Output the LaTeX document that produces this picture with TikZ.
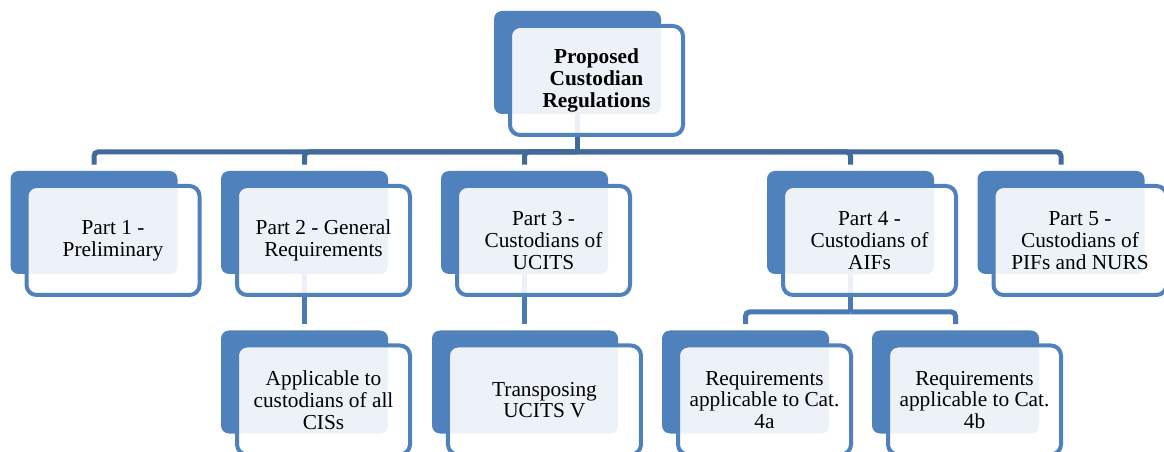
\documentclass[tikz,border=0pt]{standalone}
\usepackage{fontspec}
\setmainfont{Liberation Serif}
\usepackage{tikz}

\definecolor{boxblue}{HTML}{4F81BD}
\definecolor{busblue}{HTML}{41699A}
\definecolor{linkblue}{HTML}{4A7AB5}

\begin{document}
\begin{tikzpicture}[
            x=0.75pt, y=-0.75pt,
            back/.style={fill=boxblue, rounded corners=6pt, minimum width=125.25pt, minimum height=77.25pt, inner sep=0pt},
            front/.style={draw=boxblue, line width=3pt, fill=white, fill opacity=0.9, text opacity=1,
                rounded corners=7.5pt, minimum width=129.75pt, minimum height=81.75pt, inner sep=0pt,
                align=center, font=\fontsize{16}{16.3}\selectfont},
            title/.style={font=\fontsize{16}{16.3}\selectfont\bfseries},
            conn/.style={draw=linkblue, line width=3.75pt, rounded corners=3pt}
        ]
            \clip (0,0) rectangle (1164,452);

            % back plates
            \node[back] (tb) at (577.5,62.5) {};
            \node[back] (p1b) at (94,222.5) {};
            \node[back] (p2b) at (304.5,222.5) {};
            \node[back] (p3b) at (524.5,222.5) {};
            \node[back] (p4b) at (850.5,222.5) {};
            \node[back] (p5b) at (1061,222.5) {};
            \node[back] (ab) at (304.5,382) {};
            \node[back, minimum width=139.5pt] (tvb) at (525,382) {};
            \node[back] (c4ab) at (745.5,382) {};
            \node[back] (c4bb) at (955.5,382) {};

            % connectors
            \coordinate (bus) at (0,152);
            \coordinate (split) at (0,312);
            \draw[conn, draw=busblue] (tb.south) -- (tb.south |- bus);
            \foreach \n in {p1b,p2b,p3b,p4b,p5b}
                \draw[conn, draw=busblue, shorten >=4.5pt] (tb.south |- bus) -| (\n.north);
            \draw[conn, shorten >=4.5pt] (p2b.south) -- (p2b.south |- ab.north);
            \draw[conn, shorten >=4.5pt] (p3b.south) -- (p3b.south |- tvb.north);
            \draw[conn] (p4b.south) -- (p4b.south |- split);
            \draw[conn, shorten >=4.5pt] (p4b.south |- split) -| (c4ab.north);
            \draw[conn, shorten >=4.5pt] (p4b.south |- split) -| (c4bb.north);

            % front cards
            \node[front, title] (t) at ([xshift=14.25pt,yshift=-13.5pt]tb.center) {Proposed\\Custodian\\Regulations};
            \node[front] (p1) at ([xshift=14.25pt,yshift=-13.5pt]p1b.center) {Part 1 -\\Preliminary};
            \node[front] (p2) at ([xshift=14.25pt,yshift=-13.5pt]p2b.center) {Part 2 - General\\Requirements};
            \node[front] (p3) at ([xshift=14.25pt,yshift=-13.5pt]p3b.center) {Part 3 -\\Custodians of\\UCITS};
            \node[front] (p4) at ([xshift=14.25pt,yshift=-13.5pt]p4b.center) {Part 4 -\\Custodians of\\AIFs};
            \node[front] (p5) at ([xshift=14.25pt,yshift=-13.5pt]p5b.center) {Part 5 -\\Custodians of\\PIFs and NURS};
            \node[front] (a) at ([xshift=14.25pt,yshift=-13.5pt]ab.center) {Applicable to\\custodians of all\\CISs};
            \node[front, minimum width=144.75pt] (tv) at ([xshift=14.6pt,yshift=-13.5pt]tvb.center) {Transposing\\UCITS V};
            \node[front] (c4a) at ([xshift=14.25pt,yshift=-13.5pt]c4ab.center) {Requirements\\applicable to Cat.\\4a};
            \node[front] (c4b) at ([xshift=14.25pt,yshift=-13.5pt]c4bb.center) {Requirements\\applicable to Cat.\\4b};
        \end{tikzpicture}
\end{document}
